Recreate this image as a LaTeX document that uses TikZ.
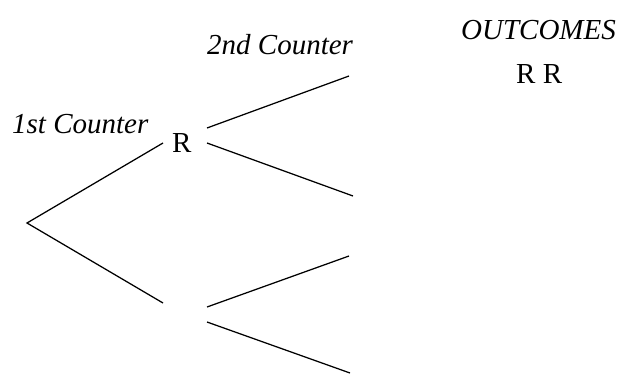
\documentclass[tikz,border=0pt]{standalone}
\usepackage{fontspec}
\setmainfont{Liberation Serif}
\begin{document}
\begin{tikzpicture}[x=1pt,y=-1pt,
  lbl/.style={anchor=base west,inner sep=0pt,font=\fontsize{29}{31}\selectfont\itshape},
  txt/.style={anchor=base west,inner sep=0pt,font=\fontsize{29}{31}\selectfont},
  branch/.style={line width=1.25pt,black}]
\useasboundingbox (0,0) rectangle (617,374);
% labels
\node[lbl] (first) at (12,134) {1st Counter};
\node[lbl] (second) at (207,55) {2nd Counter};
\node[lbl] (outc) at (461,40) {OUTCOMES};
\node[txt] (rr) at (516,84) {R R};
\node[txt] (r1) at (172,153) {R};
% tree points
\coordinate (root) at (27,223);
\coordinate (upin) at (163,143);
\coordinate (loin) at (163,303);
\coordinate (uuout) at (207,128);
\coordinate (uuend) at (349,76);
\coordinate (ulout) at (207,143);
\coordinate (ulend) at (353,196);
\coordinate (luout) at (207,307);
\coordinate (luend) at (349,256);
\coordinate (llout) at (207,322);
\coordinate (llend) at (350,373);
\draw[branch] (upin) -- (root) -- (loin);
\draw[branch] (uuout) -- (uuend);
\draw[branch] (ulout) -- (ulend);
\draw[branch] (luout) -- (luend);
\draw[branch] (llout) -- (llend);
\end{tikzpicture}
\end{document}
